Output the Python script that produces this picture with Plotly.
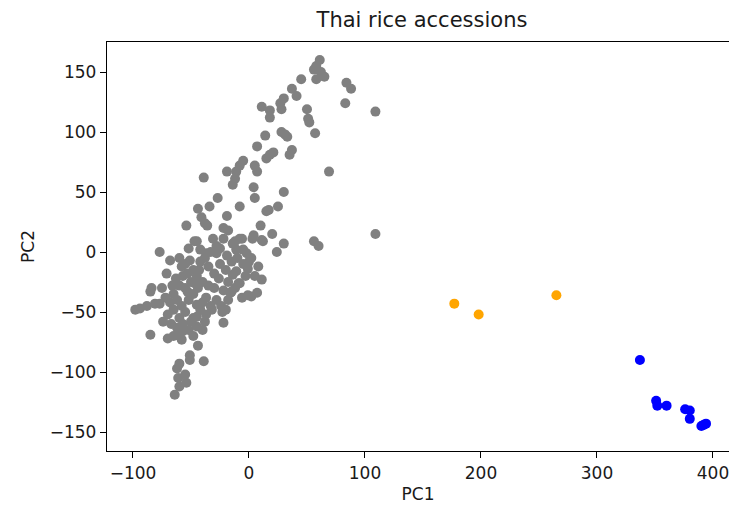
import plotly.graph_objects as go

# Gray accessions (PC1, PC2)
gray_x = [61, 58, 56, 58, 65, 45, 84, 88, 83, 37, 41, 30, 27, 28, 11, 18, 18, 50, 51, 52,
          57, 14, 28, 31, 33, 7, 18, 15, 21, 37, 35, -5, -8, -11, -12, -14, -19, -39, 5, 7,
          4, 5, 69, 30, 25, 17, 15, -8, -19, -34, -44, -41, -38, -36, -54, -22, -18, 10, 20, 4,
          12, -31, -22, -12, -6, 30, 56, 60, -47, 109, 109, 3, 11, 24, -45, -52, -77, -68, -71, -58,
          -51, -37, -28, -19, -11, -5, -14, -8, -2, 2, 8, -1, -11, -14, 11, -8, 7, 2, -22, -15,
          -18, -24, -22, -37, -37, -42, -45, -85, -75, -98, -94, -88, -81, -77, -85, -74, -70, -60, -57, -44,
          -51, -39, -51, -60, -62, -55, -61, -54, -60, -64, -65, -58, -23, -16, -9, -1, -84, -53,
          -60, -55, -48, -42, -35, -30, -25, -20, -45, -40, -35, -50, -55, -60, -65, -62, -58, -52,
          -48, -44, -40, -30, -28, -32, -55, -60, -50, -45, -40, -65, -68, -70, -72, -63, -57, -38,
          -33, -25, -15, -10, -5, 0, 5, -3, -28, -42, -57, -52, -48, -62, -67, -38, -26, -18,
          -12, -6, -45, -53, -47, -66, -20, -43, -48, -33, 62, -27]
gray_y = [160, 155, 152, 144, 146, 144, 141, 136, 124, 136, 130, 128, 124, 119, 121, 118, 112, 119, 111, 108,
          99, 97, 100, 98, 96, 88, 81, 78, 83, 85, 81, 76, 72, 67, 61, 56, 67, 62, 72, 67,
          54, 45, 67, 50, 38, 35, 34, 38, 30, 38, 36, 29, 24, 22, 22, 20, 18, 22, 15, 14,
          9, 11, 11, 9, 11, 7, 9, 5, 9, 15, 117, 11, 10, 0, 9, 3, 0, -7, -18, -12,
          -7, -1, -1, -3, 2, 2, 7, 11, -1, -5, -12, -14, -16, -19, -23, -26, -34, -37, -32, -33,
          -40, -45, -59, -38, -52, -48, -54, -33, -30, -48, -47, -45, -43, -43, -69, -58, -72, -70, -66, -78,
          -86, -91, -90, -93, -97, -102, -105, -109, -112, -119, -70, -73, -50, -34, -26, -36, -30, -18,
          -5, -10, -15, -8, -12, -18, -10, -15, -20, -25, -28, -25, -30, -28, -35, -40, -45, -40,
          -35, -30, -42, -30, -40, -48, -50, -55, -58, -62, -65, -48, -42, -52, -38, -22, -20, -5,
          0, 3, -8, -5, -10, -8, -20, -20, 5, 2, -60, -65, -70, -63, -60, -58, -22, -25,
          -30, -38, -44, -33, -26, -28, -48, -15, -55, -45, 150, 45]

# Orange accessions
orange_x = [177, 198, 265]
orange_y = [-43, -52, -36]

# Blue accessions
blue_x = [337, 351, 352, 360, 376, 380, 380, 390, 394, 392]
blue_y = [-90, -124, -128, -128, -131, -132, -139, -145, -143, -144]

x_ticks = [-100, 0, 100, 200, 300, 400]
x_tick_labels = ["\u2212100", "0", "100", "200", "300", "400"]
y_ticks = [-150, -100, -50, 0, 50, 100, 150]
y_tick_labels = ["\u2212150", "\u2212100", "\u221250", "0", "50", "100", "150"]

fig = go.Figure()
for xs, ys, col in [(gray_x, gray_y, "#808080"), (orange_x, orange_y, "#FFA500"), (blue_x, blue_y, "#0000FF")]:
    fig.add_trace(go.Scatter(x=xs, y=ys, mode="markers",
                             marker=dict(color=col, size=10, line=dict(width=0)),
                             showlegend=False, hoverinfo="skip"))

axis_common = dict(showline=True, linecolor="black", linewidth=1.3, ticks="outside",
                   ticklen=6, tickwidth=1.2, tickcolor="black", showgrid=False, zeroline=False,
                   ticklabeloverflow="allow",
                   tickfont=dict(family="DejaVu Sans", size=17, color="#1a1a1a"),
                   title_font=dict(family="DejaVu Sans", size=17, color="#1a1a1a"))

fig.update_layout(
    width=729, height=507,
    margin=dict(l=107, r=0, t=42, b=56),
    paper_bgcolor="white", plot_bgcolor="white",
    title=dict(text="Thai rice accessions", x=422 / 729, xref="container", xanchor="center",
               y=1 - 20 / 507, yref="container", yanchor="middle",
               font=dict(family="DejaVu Sans", size=21, color="#1a1a1a")),
    xaxis=dict(range=[-122.4, 413.8], tickvals=x_ticks, ticktext=x_tick_labels,
               title=dict(text="PC1", standoff=6), mirror=True, **axis_common),
    yaxis=dict(range=[-165.8, 175], tickvals=y_ticks, ticktext=y_tick_labels,
               title=dict(text="PC2", standoff=10), mirror=False, **axis_common),
)

fig.write_html("out.html")
